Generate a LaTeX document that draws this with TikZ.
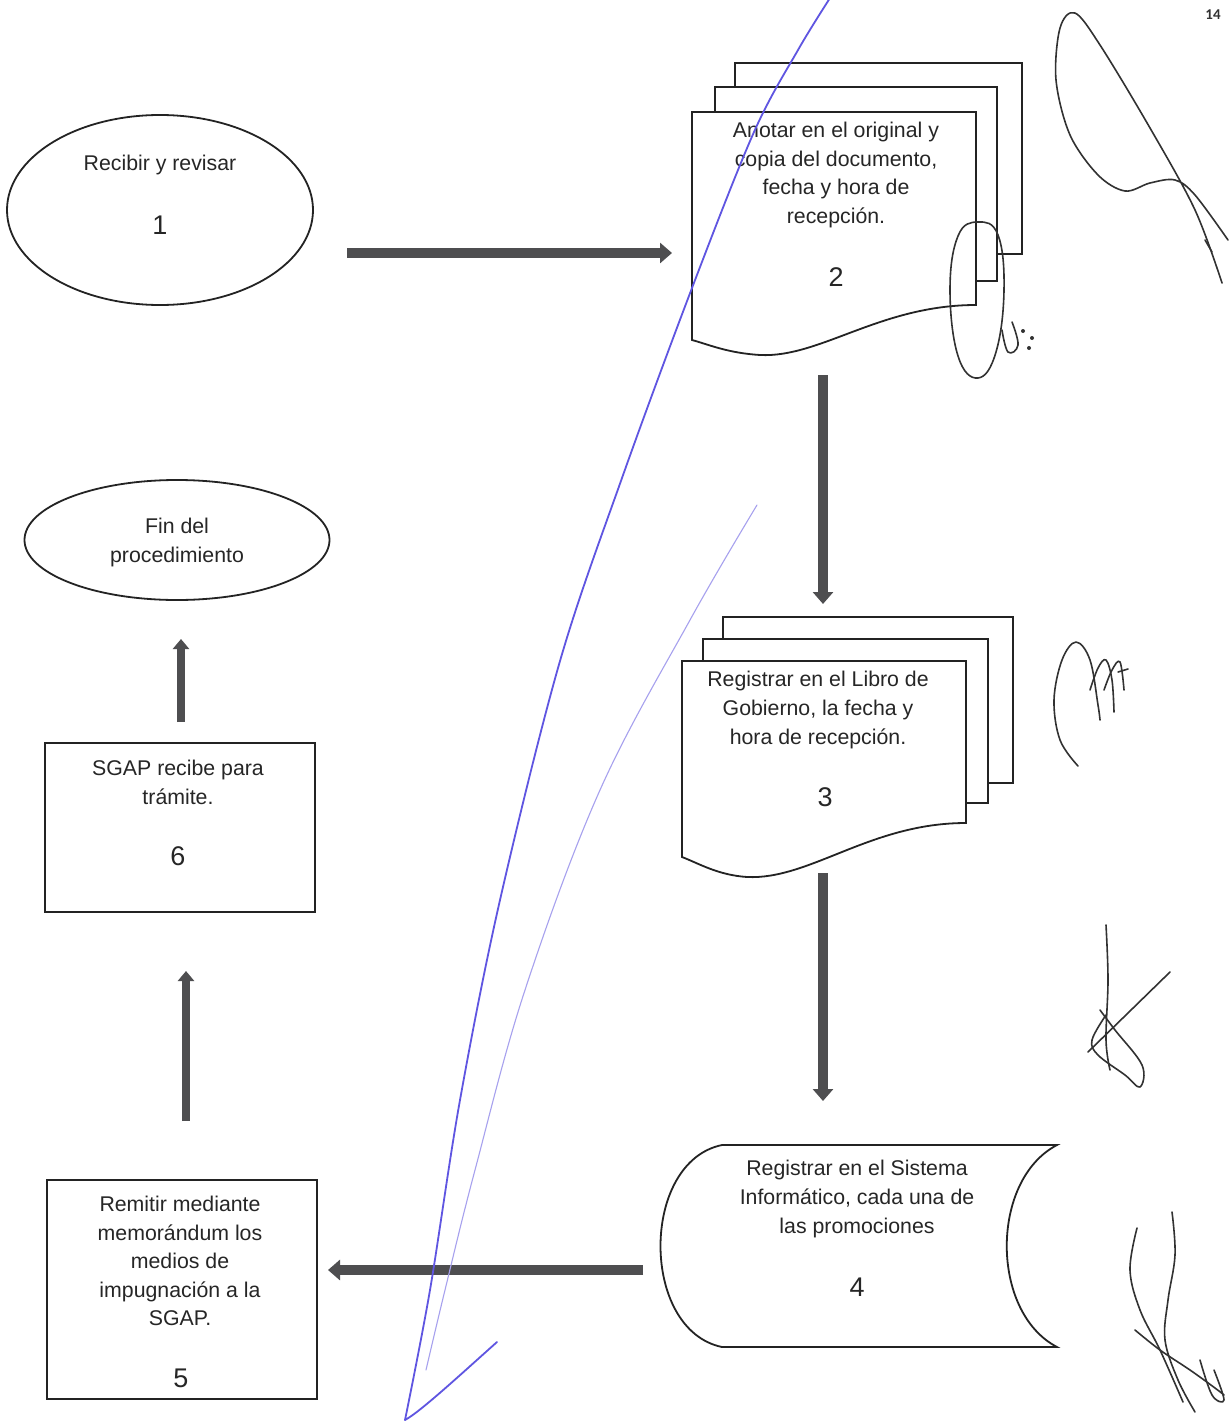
\documentclass[tikz,border=0pt]{standalone}
\usepackage{fontspec}
\setmainfont{Liberation Sans}
\newfontfamily\pgnumfont{Carlito}
\usetikzlibrary{arrows.meta,shapes.geometric}
\definecolor{arrowgray}{RGB}{78,78,80}
\definecolor{inkgray}{RGB}{35,35,35}
\definecolor{penblue}{RGB}{95,85,225}
\definecolor{signink}{RGB}{50,50,50}
\tikzset{
  shapeline/.style={draw=inkgray, line width=1.8pt, fill=white},
  stepbox/.style={shapeline, rectangle, inner sep=0pt},
  stepoval/.style={shapeline, ellipse, inner sep=0pt},
  steptext/.style={align=center, text=black!85, inner sep=0pt,
    font=\fontsize{21.3}{28.6}\selectfont},
  stepnum/.style={text=black!85, inner sep=0pt, font=\fontsize{27}{32}\selectfont},
  flowarrow/.style={draw=arrowgray, line width=10pt, -{Triangle[width=20pt,length=12pt]}},
  flowarrowsmall/.style={draw=arrowgray, line width=8pt, -{Triangle[width=16pt,length=10pt]}},
  bluepen/.style={draw=penblue, line width=1.8pt, line cap=round, line join=round},
  signature/.style={draw=signink, line width=1.6pt, line cap=round, line join=round}
}
\begin{document}
\begin{tikzpicture}[x=1pt,y=-1pt]
\useasboundingbox[fill=white] (0,0) rectangle (1230,1426);

% page number
\node[font=\pgnumfont\bfseries\fontsize{15}{17}\selectfont, text=black!80] (pg) at (1213,15) {14};

% ---------- 1: ellipse ----------
\node[stepoval, minimum width=306pt, minimum height=190pt] (n1) at (160,210) {};
\node[steptext] (t1) at (160,165) {Recibir y revisar};
\node[stepnum] (k1) at (160,225) {1};

% ---------- 2: multi-document ----------
\draw[shapeline] (735,87) -- (735,63) -- (1022,63) -- (1022,254) -- (997,254) -- (997,87) -- cycle;
\draw[shapeline] (715,112) -- (715,87) -- (997,87) -- (997,281) -- (976,281) -- (976,112) -- cycle;
\draw[shapeline] (692,340) -- (692,112) -- (976,112) -- (976,305)
  .. controls (880,305) and (820,358) .. (760,355)
  .. controls (728,353) and (710,345) .. (692,340) -- cycle;
\node[steptext] (t2) at (836,175) {Anotar en el original y\\copia del documento,\\fecha y hora de\\recepción.};
\node[stepnum] (k2) at (836,277) {2};

% ---------- 3: multi-document ----------
\draw[shapeline] (723,639) -- (723,617) -- (1013,617) -- (1013,783) -- (988,783) -- (988,639) -- cycle;
\draw[shapeline] (703,661) -- (703,639) -- (988,639) -- (988,803) -- (966,803) -- (966,661) -- cycle;
\draw[shapeline] (682,857) -- (682,661) -- (966,661) -- (966,823)
  .. controls (870,823) and (810,880) .. (747,877)
  .. controls (718,875) and (700,864) .. (682,857) -- cycle;
\node[steptext] (t3) at (818,710) {Registrar en el Libro de\\Gobierno, la fecha y\\hora de recepción.};
\node[stepnum] (k3) at (825,797) {3};

% ---------- 4: stored data ----------
\draw[shapeline] (722,1145) -- (1057,1145)
  .. controls (990,1180) and (990,1312) .. (1057,1347) -- (722,1347)
  .. controls (640,1330) and (640,1162) .. (722,1145) -- cycle;
\node[steptext] (t4) at (857,1199) {Registrar en el Sistema\\Informático, cada una de\\las promociones};
\node[stepnum] (k4) at (857,1287) {4};

% ---------- 5: process ----------
\node[stepbox, minimum width=270pt, minimum height=219pt] (n5) at (182,1289.5) {};
\node[steptext] (t5) at (180,1261) {Remitir mediante\\memorándum los\\medios de\\impugnación a la\\SGAP.};
\node[stepnum] (k5) at (181,1378) {5};

% ---------- 6: process ----------
\node[stepbox, minimum width=270pt, minimum height=169pt] (n6) at (180,827.5) {};
\node[steptext] (t6) at (178,782.5) {SGAP recibe para\\trámite.};
\node[stepnum] (k6) at (178,856) {6};

% ---------- end ellipse ----------
\node[stepoval, minimum width=305pt, minimum height=120pt] (nf) at (177,540) {};
\node[steptext] (tf) at (177,542.5) {Fin del\\procedimiento};

% ---------- connectors ----------
\coordinate (a12s) at (347,253);  \coordinate (a12e) at (672,253);
\coordinate (a23s) at (823,375);  \coordinate (a23e) at (823,604);
\coordinate (a34s) at (823,873);  \coordinate (a34e) at (823,1101);
\coordinate (a45s) at (643,1270); \coordinate (a45e) at (328,1270);
\coordinate (a56s) at (186,1121); \coordinate (a56e) at (186,971);
\coordinate (a6fs) at (181,722);  \coordinate (a6fe) at (181,639);
\draw[flowarrow] (a12s) -- (a12e);
\draw[flowarrow] (a23s) -- (a23e);
\draw[flowarrow] (a34s) -- (a34e);
\draw[flowarrow] (a45s) -- (a45e);
\draw[flowarrowsmall] (a56s) -- (a56e);
\draw[flowarrowsmall] (a6fs) -- (a6fe);

% ---------- blue pen stroke ----------
\draw[bluepen] plot[smooth, tension=0.55] coordinates {(830,-2) (798,50) (754,132) (692,288) (622,478) (560,661) (500,900) (460,1100) (430,1290) (405,1420)}
  .. controls (420,1412) and (460,1375) .. (497,1342);
\draw[draw=penblue!55, line width=1.1pt, line cap=round] plot[smooth, tension=0.6] coordinates {(757,505) (690,620) (600,790) (525,990) (475,1170) (445,1290) (426,1370)};

% ---------- signatures ----------
\draw[signature] plot[smooth, tension=0.55] coordinates {(1222,283) (1195,210) (1150,128) (1100,45) (1075,13) (1060,28) (1056,80) (1070,135) (1098,175) (1125,191) (1150,183) (1175,180) (1195,195) (1228,240)};
\draw[signature] (1205,240) -- (1212,252);
\draw[signature] plot[smooth cycle, tension=0.7] coordinates {(978,222) (998,235) (1004,290) (996,352) (978,378) (958,356) (950,290) (958,236)};
\draw[signature] plot[smooth, tension=0.7] coordinates {(1002,330) (1008,352) (1018,345) (1012,322)};
\fill[signink] (1023,331) circle (2pt) (1032,338) circle (2pt) (1029,348) circle (2pt);
\draw[signature] plot[smooth, tension=0.6] coordinates {(1078,766) (1060,740) (1054,700) (1062,660) (1076,642) (1090,660) (1098,705) (1100,720)};
\draw[signature] plot[smooth, tension=0.6] coordinates {(1090,690) (1098,668) (1106,660) (1112,680) (1114,712)};
\draw[signature] plot[smooth, tension=0.6] coordinates {(1104,690) (1112,670) (1120,662) (1124,690)};
\draw[signature] (1118,672) -- (1128,669);
\draw[signature] plot[smooth, tension=0.6] coordinates {(1106,925) (1108,980) (1106,1040) (1110,1070)};
\draw[signature] plot[smooth, tension=0.6] coordinates {(1106,1015) (1092,1040) (1098,1055) (1125,1075) (1140,1087) (1142,1065) (1115,1030) (1100,1010)};
\draw[signature] (1170,972) -- (1088,1052);
\draw[signature] plot[smooth, tension=0.6] coordinates {(1137,1228) (1130,1270) (1140,1310) (1160,1350) (1183,1402)};
\draw[signature] plot[smooth, tension=0.6] coordinates {(1172,1212) (1175,1255) (1168,1300) (1165,1340) (1178,1380) (1195,1412)};
\draw[signature] plot[smooth, tension=0.6] coordinates {(1135,1330) (1160,1350) (1190,1370) (1215,1388) (1224,1395)};
\draw[signature] plot[smooth, tension=0.6] coordinates {(1200,1360) (1212,1395) (1224,1400) (1214,1370)};
\end{tikzpicture}
\end{document}
